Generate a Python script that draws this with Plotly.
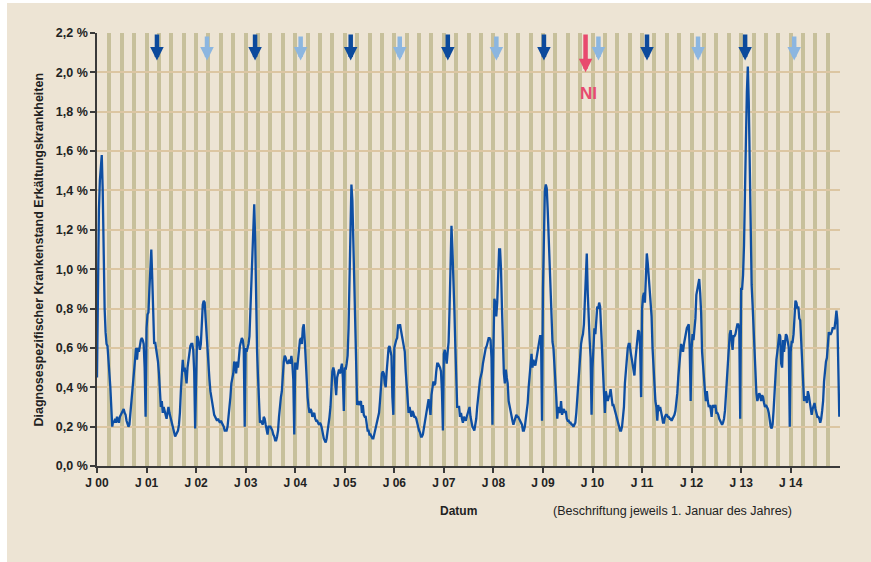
import plotly.graph_objects as go

# ---- data: weekly diagnosis-specific sick leave rate (%) per year ----
y2000 = [0.45,1.0,1.3,1.45,1.55,1.58,1.4,1.0,0.8,0.68, 0.62,0.61,0.55,0.49,0.4,0.3,0.2,0.23,0.22,0.24, 0.22,0.25,0.23,0.22,0.25,0.26,0.27,0.28,0.29,0.27, 0.26,0.23,0.21,0.2,0.21,0.26,0.32,0.37,0.44,0.48, 0.52,0.6,0.54,0.6,0.58,0.62,0.64,0.65,0.64,0.62, 0.5,0.25]
y2001 = [0.7,0.77,0.78,0.9,1.05,1.1,0.95,0.75,0.62,0.63, 0.6,0.57,0.53,0.47,0.4,0.3,0.33,0.27,0.3,0.28, 0.25,0.24,0.27,0.3,0.27,0.25,0.23,0.2,0.19,0.17, 0.15,0.16,0.17,0.18,0.21,0.27,0.38,0.49,0.54,0.48, 0.5,0.46,0.42,0.5,0.55,0.59,0.61,0.62,0.62,0.59, 0.48,0.19]
y2002 = [0.45,0.66,0.65,0.62,0.59,0.62,0.75,0.82,0.84,0.83, 0.75,0.66,0.56,0.5,0.44,0.38,0.34,0.31,0.29,0.26, 0.25,0.24,0.23,0.24,0.23,0.22,0.23,0.22,0.21,0.2, 0.18,0.18,0.18,0.2,0.24,0.28,0.35,0.42,0.45,0.47, 0.53,0.52,0.47,0.53,0.5,0.58,0.61,0.63,0.65,0.64, 0.6,0.2]
y2003 = [0.6,0.58,0.6,0.62,0.66,0.8,0.98,1.15,1.28,1.33, 1.15,0.8,0.58,0.45,0.33,0.22,0.23,0.22,0.21,0.25, 0.24,0.21,0.17,0.16,0.2,0.2,0.2,0.19,0.18,0.16, 0.15,0.13,0.13,0.15,0.18,0.25,0.33,0.35,0.38,0.47, 0.53,0.56,0.55,0.53,0.52,0.53,0.54,0.52,0.56,0.52, 0.44,0.16]
y2004 = [0.52,0.52,0.49,0.54,0.62,0.64,0.65,0.62,0.7,0.72, 0.64,0.53,0.45,0.35,0.3,0.27,0.29,0.28,0.25,0.26, 0.27,0.24,0.23,0.23,0.22,0.21,0.22,0.21,0.19,0.16, 0.14,0.13,0.12,0.14,0.17,0.21,0.25,0.3,0.4,0.48, 0.5,0.48,0.42,0.36,0.45,0.48,0.49,0.47,0.5,0.52, 0.45,0.28]
y2005 = [0.5,0.49,0.52,0.56,0.7,0.94,1.3,1.43,1.35,1.15, 0.95,0.7,0.43,0.31,0.33,0.31,0.32,0.33,0.27,0.31, 0.26,0.25,0.25,0.21,0.18,0.18,0.16,0.16,0.15,0.14, 0.14,0.16,0.18,0.21,0.22,0.25,0.27,0.33,0.42,0.47, 0.48,0.47,0.42,0.4,0.48,0.55,0.6,0.61,0.59,0.56, 0.35,0.26]
y2006 = [0.6,0.63,0.64,0.65,0.72,0.7,0.72,0.69,0.66,0.64, 0.62,0.58,0.48,0.42,0.36,0.27,0.3,0.27,0.25,0.28, 0.27,0.25,0.25,0.24,0.21,0.2,0.18,0.17,0.15,0.15, 0.16,0.19,0.22,0.25,0.28,0.32,0.34,0.3,0.26,0.36, 0.41,0.43,0.41,0.42,0.48,0.52,0.52,0.51,0.5,0.48, 0.38,0.18]
y2007 = [0.57,0.59,0.56,0.52,0.58,0.63,0.8,1.06,1.22,1.1, 0.88,0.8,0.62,0.38,0.3,0.3,0.3,0.25,0.27,0.24, 0.22,0.25,0.24,0.23,0.25,0.27,0.29,0.3,0.25,0.22, 0.2,0.19,0.18,0.21,0.24,0.3,0.35,0.42,0.44,0.46, 0.48,0.52,0.55,0.56,0.6,0.61,0.64,0.65,0.65,0.64, 0.55,0.21]
y2008 = [0.6,0.85,0.83,0.76,0.83,0.97,1.1,1.1,1.0,0.8, 0.62,0.47,0.42,0.49,0.45,0.42,0.33,0.3,0.27,0.24, 0.23,0.21,0.23,0.25,0.26,0.25,0.25,0.24,0.23,0.22, 0.21,0.18,0.18,0.2,0.24,0.29,0.32,0.4,0.45,0.49, 0.57,0.5,0.54,0.52,0.51,0.54,0.57,0.6,0.62,0.66, 0.66,0.23]
y2009 = [0.9,1.25,1.4,1.43,1.41,1.3,1.15,0.98,0.88,0.75, 0.63,0.6,0.53,0.45,0.35,0.24,0.3,0.28,0.27,0.33, 0.26,0.28,0.29,0.27,0.28,0.24,0.23,0.23,0.22,0.22, 0.21,0.21,0.2,0.21,0.22,0.27,0.35,0.43,0.49,0.57, 0.62,0.65,0.67,0.72,0.88,1.0,1.08,0.88,0.72,0.64, 0.55,0.26]
y2010 = [0.5,0.64,0.7,0.67,0.76,0.81,0.8,0.83,0.81,0.7, 0.62,0.53,0.45,0.27,0.38,0.34,0.33,0.35,0.36,0.39, 0.33,0.31,0.31,0.29,0.27,0.25,0.23,0.21,0.2,0.18, 0.18,0.2,0.25,0.3,0.42,0.5,0.56,0.6,0.62,0.62, 0.58,0.55,0.51,0.47,0.46,0.54,0.6,0.66,0.69,0.68, 0.6,0.35]
y2011 = [0.8,0.86,0.88,0.83,0.95,1.08,1.03,0.96,0.9,0.83, 0.76,0.6,0.5,0.42,0.33,0.3,0.23,0.31,0.28,0.3, 0.28,0.25,0.22,0.22,0.25,0.26,0.26,0.25,0.25,0.24, 0.24,0.23,0.24,0.25,0.26,0.28,0.32,0.37,0.45,0.5, 0.56,0.62,0.6,0.58,0.62,0.65,0.69,0.7,0.71,0.72, 0.6,0.33]
y2012 = [0.6,0.67,0.64,0.68,0.75,0.87,0.9,0.93,0.95,0.88, 0.78,0.58,0.49,0.44,0.38,0.33,0.38,0.33,0.3,0.31, 0.29,0.25,0.31,0.3,0.3,0.31,0.27,0.27,0.26,0.24, 0.23,0.22,0.21,0.22,0.24,0.28,0.36,0.45,0.52,0.6, 0.67,0.69,0.64,0.59,0.66,0.66,0.67,0.7,0.72,0.72, 0.7,0.24]
y2013 = [0.9,0.9,0.97,1.12,1.5,1.65,1.9,2.03,1.85,1.45, 1.12,0.92,0.82,0.7,0.6,0.45,0.37,0.33,0.35,0.37, 0.36,0.33,0.36,0.35,0.32,0.3,0.31,0.3,0.29,0.27, 0.23,0.2,0.19,0.21,0.28,0.37,0.48,0.54,0.58,0.62, 0.67,0.66,0.52,0.5,0.64,0.58,0.65,0.67,0.66,0.62, 0.6,0.2]
y2014 = [0.58,0.63,0.63,0.67,0.74,0.84,0.83,0.8,0.81,0.75, 0.74,0.65,0.55,0.45,0.33,0.35,0.35,0.32,0.38,0.36, 0.33,0.3,0.26,0.29,0.31,0.32,0.29,0.27,0.25,0.25, 0.24,0.22,0.24,0.28,0.33,0.43,0.5,0.53,0.55,0.65, 0.68,0.67,0.67,0.68,0.7,0.7,0.7,0.74,0.79,0.74, 0.55,0.25]

years = [y2000, y2001, y2002, y2003, y2004, y2005, y2006, y2007,
         y2008, y2009, y2010, y2011, y2012, y2013, y2014]

# arrow markers (years since 1 Jan 2000)
dark_arrows = [1.21, 3.19, 5.12, 7.08, 9.02, 11.10, 13.08]
light_arrows = [2.22, 4.11, 6.11, 8.06, 10.12, 12.13, 14.07]
ni_arrow = [9.86]
ni_label = "NI"

# ---- build series (x = years since J 00) ----
xs, ys = [], []
for k, vals in enumerate(years):
    n = len(vals)
    for i, v in enumerate(vals):
        xs.append(k + i / n)
        ys.append(v)

BG = "#ede4d4"
OLIVE = "#c7c09b"
HGRID = "#dcc6a2"
AX = "#3a3a3a"
FONT = "Liberation Sans"

fig = go.Figure()
fig.add_trace(go.Scatter(x=xs, y=ys, mode="lines",
                         line=dict(color="#0e4fa3", width=2.3),
                         hoverinfo="skip", showlegend=False))

annotations = []
def arrow(xa, y_tip, y_tail, color):
    return dict(x=xa, y=y_tip, ax=xa, ay=y_tail, xref="x", yref="y",
                axref="x", ayref="y", text="", showarrow=True,
                arrowhead=2, arrowwidth=4.5, arrowsize=0.6, arrowcolor=color)

for xa in dark_arrows:
    annotations.append(arrow(xa, 2.06, 2.2, "#0c4a9c"))
for xa in light_arrows:
    annotations.append(arrow(xa, 2.06, 2.19, "#8cb6e0"))
for xa in ni_arrow:
    annotations.append(arrow(xa, 2.0, 2.2, "#e84a6e"))
    annotations.append(dict(x=xa + 0.06, y=1.895, xref="x", yref="y", text=ni_label,
                            showarrow=False,
                            font=dict(family=FONT, size=17, color="#e84a6e", weight="bold")))

annotations += [
    dict(text="Diagnosespezifischer Krankenstand Erkältungskrankheiten",
         xref="paper", yref="paper", x=-0.0794, y=0.5, textangle=-90,
         showarrow=False, xanchor="center", yanchor="middle",
         font=dict(family=FONT, size=12.5, color="#222", weight="bold")),
    dict(text="Datum", xref="paper", yref="paper", x=0.486, y=-0.104,
         showarrow=False, xanchor="center", yanchor="middle",
         font=dict(family=FONT, size=12, color="#222", weight="bold")),
    dict(text="(Beschriftung jeweils 1. Januar des Jahres)", xref="paper", yref="paper",
         x=0.774, y=-0.104, showarrow=False, xanchor="center", yanchor="middle",
         font=dict(family=FONT, size=12.5, color="#222")),
]

fig.update_layout(
    width=871, height=562, autosize=False,
    margin=dict(l=97, r=31, t=33, b=96),
    paper_bgcolor=BG, plot_bgcolor=BG,
    separators=",.",
    annotations=annotations,
    shapes=[
        dict(type="rect", xref="paper", yref="paper", x0=-0.2, x1=-0.1211,
             y0=-0.3, y1=1.2, fillcolor="white", line=dict(width=0), layer="below"),
        dict(type="rect", xref="paper", yref="paper", x0=-0.2, x1=1.1,
             y0=1.0693, y1=1.2, fillcolor="white", line=dict(width=0), layer="below"),
    ],
    xaxis=dict(range=[0, 14.995], tickmode="linear", tick0=0, dtick=1,
               tickformat="02d", tickprefix="J ",
               showgrid=True, gridcolor=OLIVE, gridwidth=3.5,
               minor=dict(dtick=0.25, tick0=0, showgrid=True, gridcolor=OLIVE, gridwidth=3.5),
               ticks="outside", ticklen=5, tickcolor=AX, tickwidth=1.5,
               showline=True, linecolor=AX, linewidth=1.5, zeroline=False,
               tickfont=dict(family=FONT, size=12, color="#222", weight="bold")),
    yaxis=dict(range=[0, 2.2], tickmode="linear", tick0=0, dtick=0.2,
               tickformat=".1f", ticksuffix=" %",
               showgrid=True, gridcolor=HGRID, gridwidth=1.5,
               ticks="outside", ticklen=5, tickcolor=AX, tickwidth=1.5,
               showline=True, linecolor=AX, linewidth=1.5, zeroline=False,
               tickfont=dict(family=FONT, size=12.5, color="#222", weight="bold")),
)

fig.write_html("out.html", config={"displayModeBar": False},
               post_script="document.body.style.margin='0';document.body.style.overflow='hidden';")
